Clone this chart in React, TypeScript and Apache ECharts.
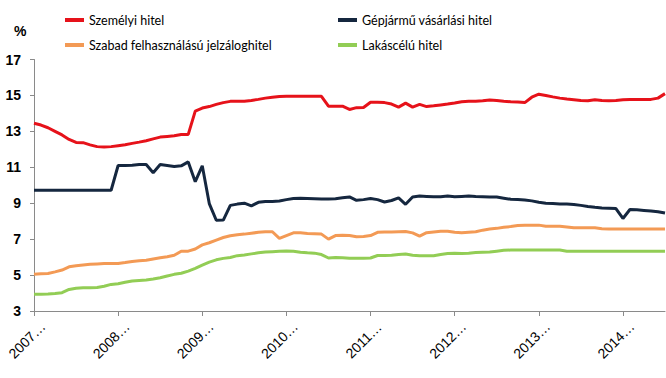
import React, { useEffect, useRef } from "react";
import * as echarts from "echarts";

const years = [2007, 2008, 2009, 2010, 2011, 2012, 2013, 2014];
const monthNames = ["jan.", "febr.", "márc.", "ápr.", "máj.", "jún.", "júl.", "aug.", "szept.", "okt.", "nov.", "dec."];
const pointCount = 91; // 2007. jan. – 2014. júl.

const seriesNames = [
  "Személyi hitel",
  "Szabad felhasználású jelzáloghitel",
  "Gépjármű vásárlási hitel",
  "Lakáscélú hitel",
];

const szemelyi = [
  13.45, 13.35, 13.2, 13.0, 12.8, 12.55, 12.38, 12.37, 12.25, 12.15, 12.13, 12.15,
  12.2, 12.25, 12.33, 12.4, 12.48, 12.58, 12.68, 12.72, 12.75, 12.82, 12.83, 14.13,
  14.3, 14.38, 14.5, 14.6, 14.67, 14.68, 14.68, 14.72, 14.78, 14.85, 14.9, 14.94,
  14.95, 14.95, 14.95, 14.95, 14.95, 14.95, 14.4, 14.4, 14.4, 14.22, 14.32, 14.33,
  14.62, 14.62, 14.6, 14.52, 14.35, 14.57, 14.35, 14.5, 14.38, 14.42, 14.47, 14.52,
  14.58, 14.65, 14.68, 14.68, 14.7, 14.75, 14.72, 14.68, 14.65, 14.63, 14.6, 14.9,
  15.07, 15.0, 14.92, 14.85, 14.8, 14.76, 14.72, 14.7, 14.76, 14.72, 14.7, 14.72,
  14.76, 14.77, 14.77, 14.77, 14.78, 14.85, 15.1,
];

const gepjarmu = [
  9.72, 9.72, 9.72, 9.72, 9.72, 9.72, 9.72, 9.72, 9.72, 9.72, 9.72, 9.72,
  11.1, 11.1, 11.12, 11.15, 11.15, 10.7, 11.15, 11.1, 11.05, 11.08, 11.3, 10.2,
  11.08, 8.98, 8.05, 8.06, 8.88, 8.95, 9.0, 8.85, 9.05, 9.1, 9.1, 9.12,
  9.2, 9.26, 9.27, 9.26, 9.25, 9.24, 9.24, 9.25, 9.3, 9.35, 9.16, 9.2,
  9.26, 9.2, 9.07, 9.15, 9.3, 8.94, 9.35, 9.4, 9.38, 9.36, 9.36, 9.4,
  9.36, 9.38, 9.4, 9.37, 9.36, 9.35, 9.34, 9.28, 9.22, 9.2, 9.18, 9.13,
  9.05, 9.0, 8.98, 8.96, 8.95, 8.93, 8.88, 8.82, 8.77, 8.74, 8.72, 8.7,
  8.15, 8.65, 8.63, 8.6, 8.57, 8.52, 8.45,
];

const szabad = [
  5.04, 5.07, 5.09, 5.18, 5.28, 5.46, 5.52, 5.56, 5.6, 5.62, 5.64, 5.65,
  5.65, 5.7, 5.76, 5.8, 5.83, 5.9, 5.96, 6.02, 6.1, 6.33, 6.33, 6.45,
  6.68, 6.8, 6.95, 7.09, 7.19, 7.24, 7.28, 7.33, 7.38, 7.41, 7.41, 7.04,
  7.2, 7.35, 7.35, 7.32, 7.3, 7.28, 7.0, 7.2, 7.22, 7.2, 7.13, 7.15,
  7.2, 7.38, 7.4, 7.4, 7.41, 7.42, 7.35, 7.17, 7.36, 7.4, 7.44, 7.44,
  7.38, 7.35, 7.38, 7.41, 7.5, 7.56, 7.6, 7.66, 7.7, 7.76, 7.78, 7.78,
  7.78, 7.72, 7.72, 7.72, 7.68, 7.63, 7.63, 7.63, 7.63, 7.58, 7.57, 7.57,
  7.57, 7.57, 7.57, 7.57, 7.57, 7.57, 7.57,
];

const lakascelu = [
  3.93, 3.93, 3.95, 3.98, 4.02, 4.2, 4.27, 4.3, 4.3, 4.31, 4.38, 4.48,
  4.52, 4.6, 4.67, 4.7, 4.73, 4.78, 4.85, 4.95, 5.04, 5.1, 5.22, 5.37,
  5.55, 5.72, 5.85, 5.93, 5.98, 6.08, 6.12, 6.18, 6.24, 6.28, 6.3, 6.32,
  6.34, 6.33, 6.27, 6.24, 6.22, 6.14, 5.95, 5.98, 5.96, 5.93, 5.93, 5.93,
  5.95, 6.09, 6.09, 6.1, 6.15, 6.17, 6.1, 6.07, 6.07, 6.08, 6.15, 6.2,
  6.22, 6.2, 6.22, 6.26, 6.27, 6.28, 6.33, 6.38, 6.39, 6.39, 6.39, 6.39,
  6.39, 6.39, 6.39, 6.39, 6.33, 6.33, 6.33, 6.33, 6.33, 6.33, 6.33, 6.33,
  6.33, 6.33, 6.33, 6.33, 6.33, 6.33, 6.33,
];

const yTicks = [3, 5, 7, 9, 11, 13, 15, 17];

const colors = ["#e6121a", "#f39a55", "#15273f", "#92cd55"];

const categories: string[] = [];
for (let i = 0; i < pointCount; i++) {
  const y = years[0] + Math.floor(i / 12);
  categories.push(`${y}. ${monthNames[i % 12]}`);
}

const FONT = "Lato, 'Liberation Sans', Arial, sans-serif";
const AXFONT = "'Liberation Sans', Arial, sans-serif";

export default function App() {
  const ref = useRef<HTMLDivElement>(null);
  useEffect(() => {
    if (!ref.current) return;
    const chart = echarts.init(ref.current, undefined, { renderer: "svg" });
    const dataSets = [szemelyi, szabad, gepjarmu, lakascelu];
    const legendCommon = {
      orient: "vertical" as const,
      top: 12,
      padding: 0,
      itemWidth: 19,
      itemHeight: 4,
      itemGap: 9,
      icon: "rect",
      textStyle: { color: "#000", fontSize: 12.5, fontFamily: FONT, lineHeight: 16 },
    };
    chart.setOption({
      animation: false,
      backgroundColor: "#fff",
      legend: [
        { ...legendCommon, left: 65, data: [seriesNames[0], seriesNames[1]] },
        { ...legendCommon, left: 338, data: [seriesNames[2], seriesNames[3]] },
      ],
      graphic: [
        {
          type: "text",
          left: 14,
          top: 24,
          style: { text: "%", fontSize: 14, fontWeight: "bold", fontFamily: AXFONT, fill: "#000" },
        },
      ],
      grid: { left: 34, right: 1, top: 59.5, bottom: 67, containLabel: false },
      xAxis: {
        type: "category",
        boundaryGap: false,
        data: categories,
        axisLine: { lineStyle: { color: "#8a8a8a", width: 1 } },
        axisTick: { show: true, interval: 11, length: 5, lineStyle: { color: "#8a8a8a" } },
        axisLabel: {
          interval: 11,
          rotate: 45,
          align: "center",
          margin: 22,
          padding: [0, 20, 0, 0],
          fontSize: 14,
          fontFamily: AXFONT,
          color: "#000",
          formatter: (v: string) => v.slice(0, 4) + "…",
        },
        splitLine: { show: false },
      },
      yAxis: {
        type: "value",
        min: yTicks[0],
        max: yTicks[yTicks.length - 1],
        interval: 2,
        axisLine: { show: true, lineStyle: { color: "#8a8a8a", width: 1 } },
        axisTick: { show: true, length: 4, lineStyle: { color: "#8a8a8a" } },
        axisLabel: {
          fontSize: 14,
          fontWeight: "bold",
          fontFamily: AXFONT,
          color: "#000",
          margin: 13,
        },
        splitLine: { show: false },
      },
      series: seriesNames.map((name, i) => ({
        name,
        type: "line",
        data: dataSets[i],
        symbol: "none",
        color: colors[i],
        lineStyle: { width: 3, color: colors[i] },
        z: i === 0 ? 5 : 3,
      })),
    });
    return () => chart.dispose();
  }, []);
  return <div ref={ref} style={{ width: 666, height: 378, position: "absolute", left: 0, top: 0 }} />;
}
